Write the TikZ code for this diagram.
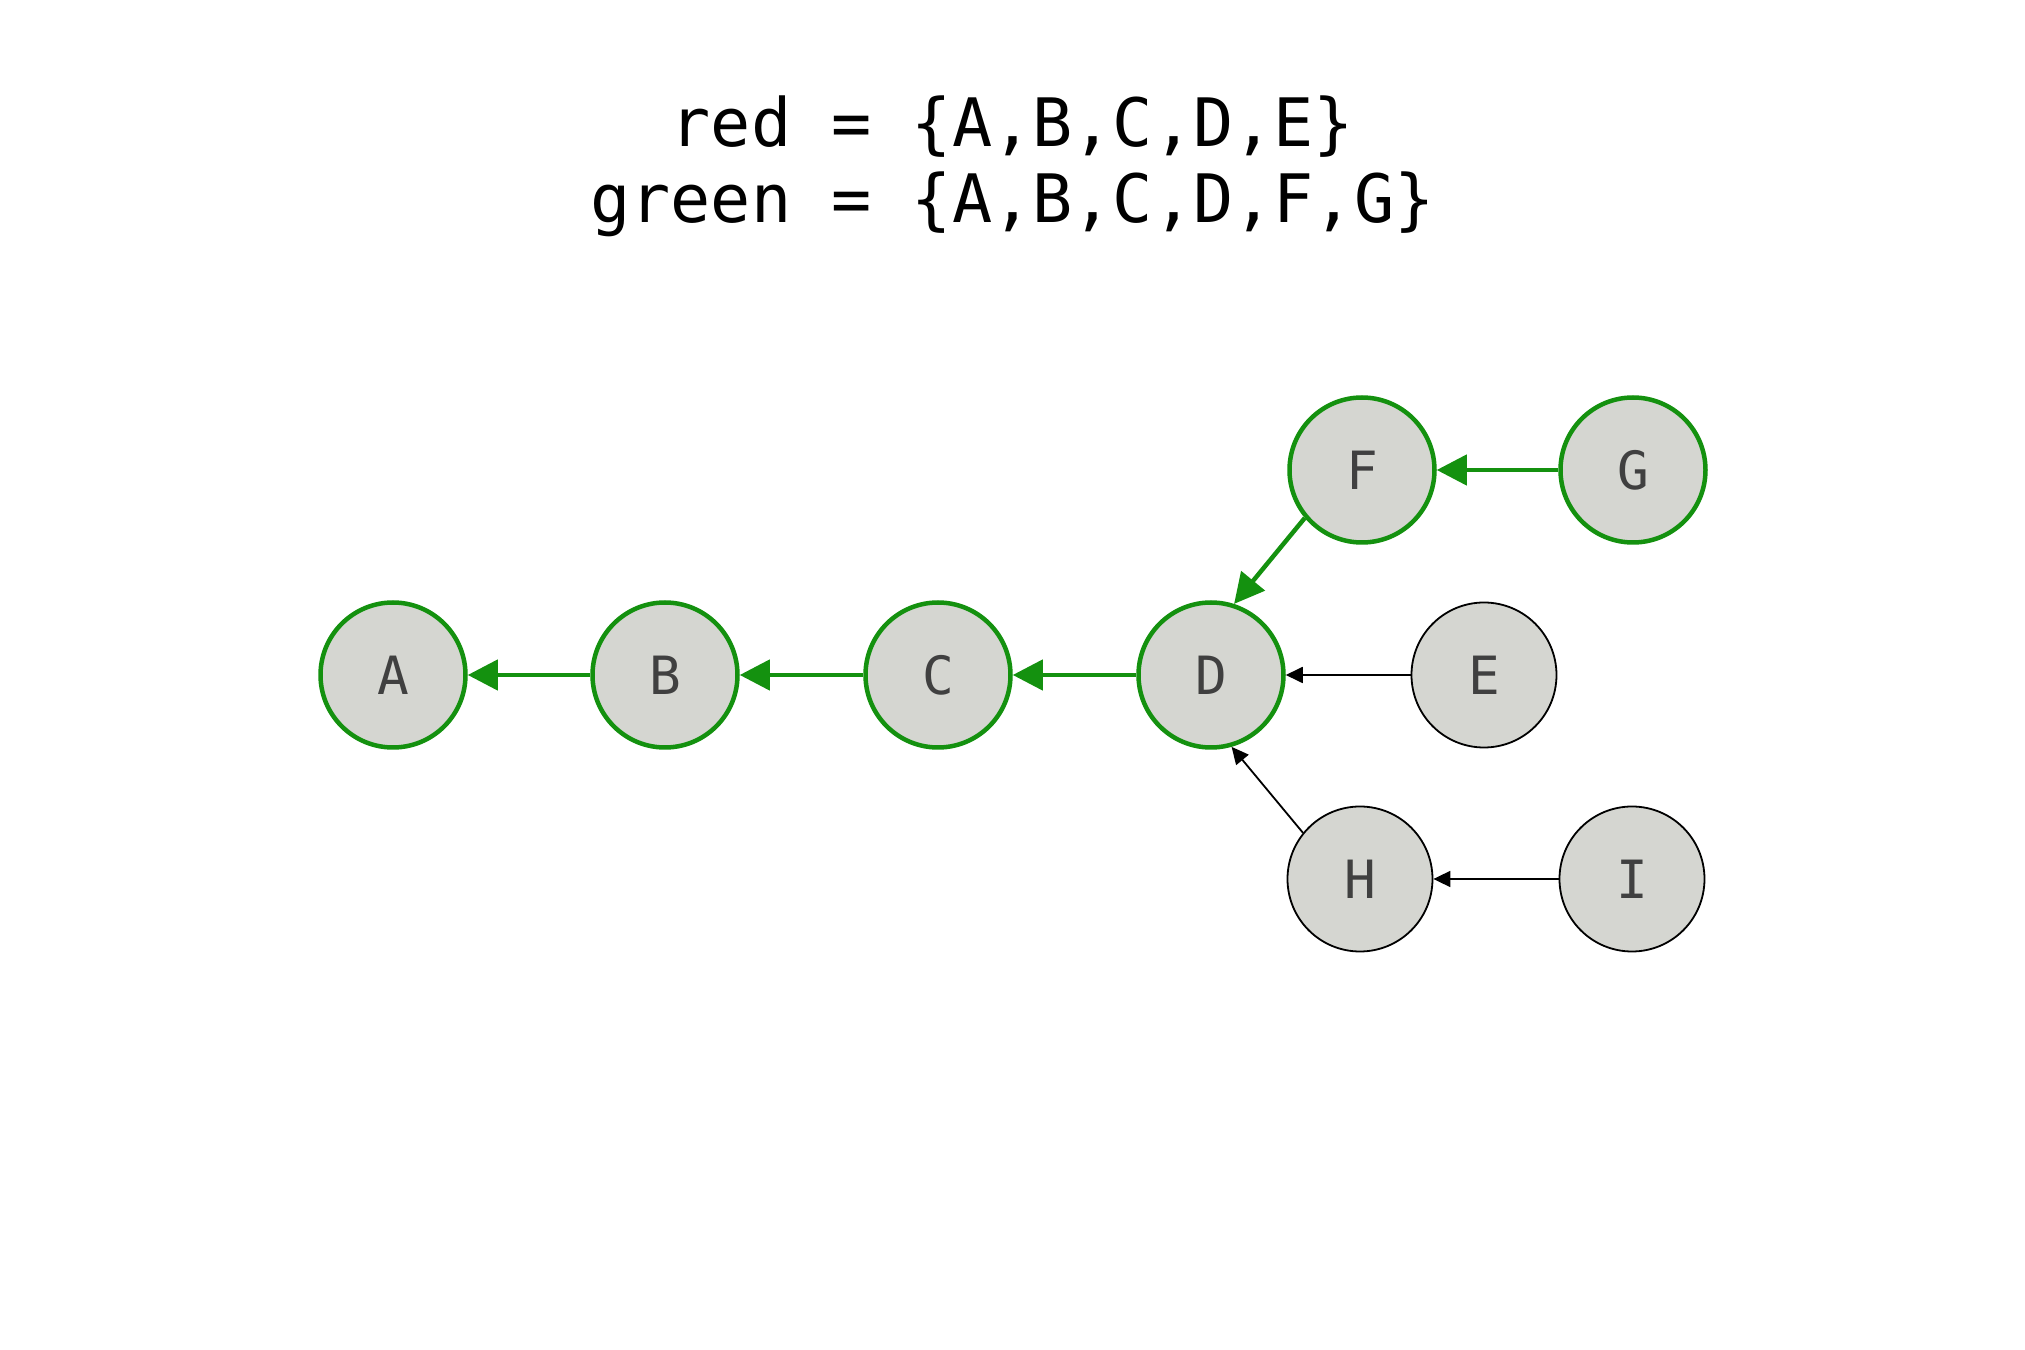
\documentclass[tikz,border=0pt]{standalone}
\usepackage{fontspec}
\setmonofont{DejaVu Sans Mono}
\usetikzlibrary{arrows.meta}
\definecolor{branchgreen}{RGB}{20,145,15}
\definecolor{commitfill}{RGB}{213,214,209}
\definecolor{commitlabel}{RGB}{64,64,64}

\begin{document}
\begin{tikzpicture}[
    commit/.style={circle, draw=black, line width=0.018cm, fill=commitfill, minimum size=1.45cm, inner sep=0pt, text=commitlabel, font=\ttfamily\fontsize{15}{18}\selectfont},
    greencommit/.style={commit, draw=branchgreen, line width=0.045cm},
    parent/.style={-{Triangle[length=0.17cm, width=0.16cm]}, line width=0.018cm},
    greenparent/.style={-{Triangle[length=0.3cm, width=0.3cm]}, draw=branchgreen, line width=0.045cm}
  ]
    \useasboundingbox (0,0) rectangle (20.25,13.5);

    % Branch contents
    \node[font=\ttfamily\fontsize{19}{22}\selectfont, anchor=base] (redset) at (10.125,12.03) {red = \{A,B,C,D,E\}};
    \node[font=\ttfamily\fontsize{19}{22}\selectfont, anchor=base] (greenset) at (10.125,11.27) {green = \{A,B,C,D,F,G\}};

    % Commits on green
    \node[greencommit] (A) at (3.93,6.75) {A};
    \node[greencommit] (B) at (6.65,6.75) {B};
    \node[greencommit] (C) at (9.38,6.75) {C};
    \node[greencommit] (D) at (12.11,6.75) {D};
    \node[greencommit] (F) at (13.62,8.80) {F};
    \node[greencommit] (G) at (16.33,8.80) {G};

    % Other commits
    \node[commit] (E) at (14.84,6.75) {E};
    \node[commit] (H) at (13.60,4.71) {H};
    \node[commit] (I) at (16.32,4.71) {I};

    % Parent links
    \draw[greenparent] (B) -- (A);
    \draw[greenparent] (C) -- (B);
    \draw[greenparent] (D) -- (C);
    \draw[greenparent] (F.220) -- (D.72);
    \draw[greenparent] (G) -- (F);
    \draw[parent] (E) -- (D);
    \draw[parent] (H.141) -- (D.-74);
    \draw[parent] (I) -- (H);
\end{tikzpicture}
\end{document}
